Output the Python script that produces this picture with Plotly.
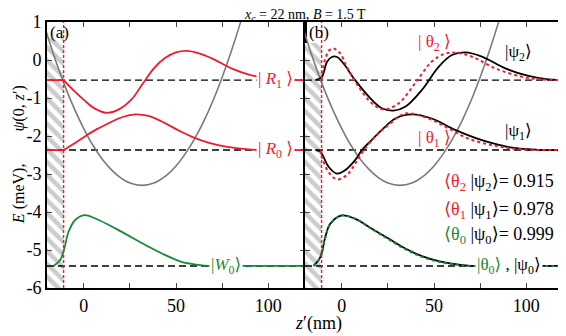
import plotly.graph_objects as go

FONT = "Liberation Serif, DejaVu Serif, serif"
RED = "#ee1c2e"
GREEN = "#16893a"
GRAY = "#7a7a7a"

# energy levels (meV)
lev_1 = -0.53
lev_0 = -2.37
lev_g = -5.42
z_wall = -11

# confining potential
pot_z = [-22, -15, -10, -5, 0, 5, 10, 15, 20, 25, 31.5, 38, 45, 50, 55, 60, 65, 70, 75, 80, 85, 90]
pot_E = [0.99, -0.06, -0.72, -1.30, -1.81, -2.25, -2.61, -2.89, -3.10, -3.24, -3.30, -3.24,
         -3.03, -2.79, -2.47, -2.08, -1.62, -1.08, -0.46, 0.23, 0.99, 1.83]

# panel (a)
R1_z = [-11, -6, 0, 6, 12.5, 19, 26, 32, 38, 44, 50, 56, 62, 70, 80, 90, 100, 110, 120]
R1_E = [-0.53, -0.78, -1.05, -1.28, -1.39, -1.30, -1.03, -0.62, -0.22, 0.05, 0.20, 0.24, 0.18,
        0.03, -0.22, -0.39, -0.48, -0.52, -0.53]
R0_z = [-11, -5, 0, 7, 14, 21, 28, 35, 44, 52, 60, 68, 77, 91, 105, 120]
R0_E = [-2.37, -2.19, -2.03, -1.82, -1.65, -1.50, -1.43, -1.47, -1.66, -1.87, -2.05, -2.18,
        -2.28, -2.36, -2.37, -2.37]
W0_z = [-16.5, -12.8, -10.6, -8.3, -4.7, 0.4, 8, 17, 26, 35, 44, 53, 62, 68, 80, 120]
W0_E = [-5.42, -5.26, -4.96, -4.52, -4.21, -4.08, -4.21, -4.43, -4.67, -4.91, -5.13, -5.31,
        -5.39, -5.42, -5.42, -5.42]

# panel (b)
psi2_z = [-14.4, -10.8, -8.1, -5.4, -2.6, 1, 7.2, 16.3, 21.7, 28, 34.4, 43.4, 52.5, 59.7, 66.9,
          76, 88.7, 101.3, 112, 120]
psi2_E = [-0.53, -0.44, -0.05, 0.08, 0.08, -0.10, -0.53, -1.05, -1.27, -1.33, -1.23, -0.79,
          -0.18, 0.13, 0.20, 0.09, -0.22, -0.42, -0.51, -0.53]
th2_z = [-11, -9, -6.3, -4.5, -1, 2.7, 9, 16.3, 22.6, 30.8, 39.8, 48.8, 56.1, 61.5, 70.5,
         83.2, 97.7, 108.5, 120]
th2_E = [-0.53, 0.04, 0.28, 0.30, 0.18, -0.18, -0.70, -1.14, -1.30, -1.14, -0.61, -0.04, 0.17,
         0.19, 0.09, -0.22, -0.44, -0.51, -0.53]
psi1_z = [-14.4, -11.7, -7.2, -2.7, 1.8, 7.3, 10.9, 16.3, 21.7, 29, 38, 48.8, 61.5, 76, 90.5,
          105, 120]
psi1_E = [-2.37, -2.41, -2.81, -2.99, -2.90, -2.63, -2.37, -2.10, -1.84, -1.54, -1.43, -1.54,
          -1.84, -2.11, -2.29, -2.36, -2.37]
th1_z = [-11.5, -10.9, -7.2, -2.7, 2.7, 7.3, 11.8, 18, 25.3, 34.4, 47, 57.9, 68.7, 83.2, 97.7,
         120]
th1_E = [-2.37, -2.55, -2.95, -3.14, -3.03, -2.72, -2.38, -2.02, -1.71, -1.41, -1.54, -1.80,
         -2.07, -2.26, -2.35, -2.37]
psi0_z = [-15.4, -11.7, -9, -6.3, 0, 7.3, 16.3, 25.3, 34.4, 43.4, 52.5, 61.5, 68.7, 80, 120]
psi0_E = [-5.42, -5.19, -4.66, -4.31, -4.09, -4.18, -4.44, -4.70, -4.96, -5.16, -5.29, -5.37,
          -5.41, -5.42, -5.42]
th0_E = [-5.42, -5.20, -4.68, -4.32, -4.09, -4.18, -4.45, -4.72, -4.98, -5.18, -5.31, -5.38,
         -5.42, -5.42, -5.42]

overlap_names = ["2", "1", "0"]
overlap_vals = [0.915, 0.978, 0.999]
overlap_cols = [RED, RED, GREEN]

fig = go.Figure()


def line(xs, ys, color, xa, width=1.8, dash="solid", shape="spline"):
    fig.add_trace(go.Scatter(x=xs, y=ys, mode="lines", xaxis=xa, yaxis="y",
                             line=dict(color=color, width=width, dash=dash, shape=shape),
                             hoverinfo="skip", showlegend=False))


for xa, top in [("x", 0.58), ("x2", 0.45)]:
    fig.add_trace(go.Scatter(x=[-20, z_wall, z_wall, -20, -20], y=[-6, -6, top, top, -6],
                             xaxis=xa, yaxis="y", mode="lines", fill="toself",
                             line=dict(width=0), fillcolor="rgba(0,0,0,0)",
                             fillpattern=dict(shape="\\", fgcolor="#999999", bgcolor="white",
                                              size=9, solidity=0.5),
                             hoverinfo="skip", showlegend=False))
    for lv in [lev_1, lev_0, lev_g]:
        line([-20, 120], [lv, lv], "black", xa, width=1.4, dash="7px,4px", shape="linear")
    line(pot_z, pot_E, GRAY, xa, width=1.6)

# panel (a)
line([-20, z_wall], [lev_1, lev_1], RED, "x", shape="linear")
line([-20, z_wall], [lev_0, lev_0], RED, "x", shape="linear")
line(R1_z, R1_E, RED, "x")
line(R0_z, R0_E, RED, "x")
line(W0_z, W0_E, GREEN, "x")

# panel (b)
line(psi2_z, psi2_E, "black", "x2")
line(psi1_z, psi1_E, "black", "x2")
line(psi0_z, psi0_E, "black", "x2")
line(th2_z, th2_E, RED, "x2", width=2, dash="dot")
line(th1_z, th1_E, RED, "x2", width=2, dash="dot")
line(psi0_z, th0_E, GREEN, "x2", width=2, dash="dot")

for xa in ["x", "x2"]:
    line([z_wall, z_wall], [-6, 1], RED, xa, width=1.4, dash="3px,2px", shape="linear")

ann = []


def label(x, y, text, color="black", xref="x", bg=None, xanchor="center", size=17):
    ann.append(dict(x=x, y=y, xref=xref, yref="y", text=text, showarrow=False,
                    xanchor=xanchor, yanchor="middle",
                    font=dict(family=FONT, size=size, color=color),
                    bgcolor=bg if bg else "rgba(0,0,0,0)", borderpad=1))


label(-13.2, 0.72, "(a)", size=17)
label(-12.4, 0.72, "(b)", xref="x2", size=17)
label(104, lev_1, "| <i>R</i><sub>1</sub> ⟩", RED, bg="white")
label(104, lev_0, "| <i>R</i><sub>0</sub> ⟩", RED, bg="white")
label(77, lev_g, "|<i>W</i><sub>0</sub>⟩", GREEN, bg="white")
label(50, 0.45, "| θ<sub>2</sub> ⟩", RED, xref="x2")
label(96, 0.18, "|ψ<sub>2</sub>⟩", "black", xref="x2")
label(50, -2.08, "| θ<sub>1</sub> ⟩", RED, xref="x2")
label(96, -1.90, "|ψ<sub>1</sub>⟩", "black", xref="x2")
for i, (n, v, c) in enumerate(zip(overlap_names, overlap_vals, overlap_cols)):
    txt = ("<span style='color:%s'>⟨θ<sub>%s</sub></span> |ψ<sub>%s</sub>⟩= %.3f"
           % (c, n, n, v))
    label(116, [-3.22, -3.96, -4.62][i], txt, xref="x2", xanchor="right", size=18)
label(90.7, lev_g, "<span style='color:%s'>|θ<sub>0</sub>⟩</span> , |ψ<sub>0</sub>⟩" % GREEN,
      xref="x2", bg="white")

ann.append(dict(x=0.527, y=-0.132, xref="paper", yref="paper", showarrow=False,
                xanchor="center", yanchor="middle",
                text="<i>z</i>′(nm)", font=dict(family=FONT, size=18, color="black")))
ann.append(dict(x=-0.054, y=0.5, xref="paper", yref="paper", showarrow=False, textangle=-90,
                xanchor="center", yanchor="middle",
                text="<i>E</i> (meV),\u00a0\u00a0\u00a0\u00a0\u00a0\u00a0\u00a0\u00a0<i>ψ</i>(0, <i>z</i>′)",
                font=dict(family=FONT, size=16, color="black")))
ann.append(dict(x=0.5, y=1.0, xref="paper", yref="paper", yanchor="bottom", yshift=-4,
                xanchor="center", showarrow=False,
                text="<i>x<sub>c</sub></i> = 22 nm, <i>B</i> = 1.5 T",
                font=dict(family=FONT, size=14, color="black")))

xax = dict(range=[-20, 120], tickvals=[0, 25, 50, 75, 100],
           ticktext=["0", "", "50", "", "100"], ticks="inside", ticklen=5, tickwidth=1.2,
           showline=True, linecolor="black", linewidth=2, mirror="ticks", showgrid=False,
           zeroline=False, tickfont=dict(family=FONT, size=18, color="black"), anchor="y",
           automargin=False)
yvals = [1, 0, -1, -2, -3, -4, -5, -6]

# the page body offsets the figure by 8px, so the figure is 8px smaller and margins trimmed
fig.update_layout(
    width=558, height=328,
    margin=dict(l=39, r=3, t=14, b=48),
    plot_bgcolor="white", paper_bgcolor="white",
    xaxis=dict(xax, domain=[0, 0.5]),
    xaxis2=dict(xax, domain=[0.5, 1]),
    yaxis=dict(range=[-6, 1], tickvals=yvals, ticktext=[str(v) for v in yvals],
               ticks="inside", ticklen=5, tickwidth=1.2, showline=True, linecolor="black",
               linewidth=2, mirror="ticks", showgrid=False, zeroline=False, automargin=False,
               tickfont=dict(family=FONT, size=18, color="black")),
    yaxis2=dict(range=[-6, 1], overlaying="y", anchor="x2", tickvals=yvals,
                showticklabels=False, ticks="inside", ticklen=5, tickwidth=1.2,
                showline=True, linecolor="black", linewidth=2, mirror="ticks",
                showgrid=False, zeroline=False, automargin=False),
    annotations=ann,
    showlegend=False,
)
# dummy trace so the right panel frame (y2) is drawn
fig.add_trace(go.Scatter(x=[None], y=[None], xaxis="x2", yaxis="y2", showlegend=False))

fig.write_html("out.html")
